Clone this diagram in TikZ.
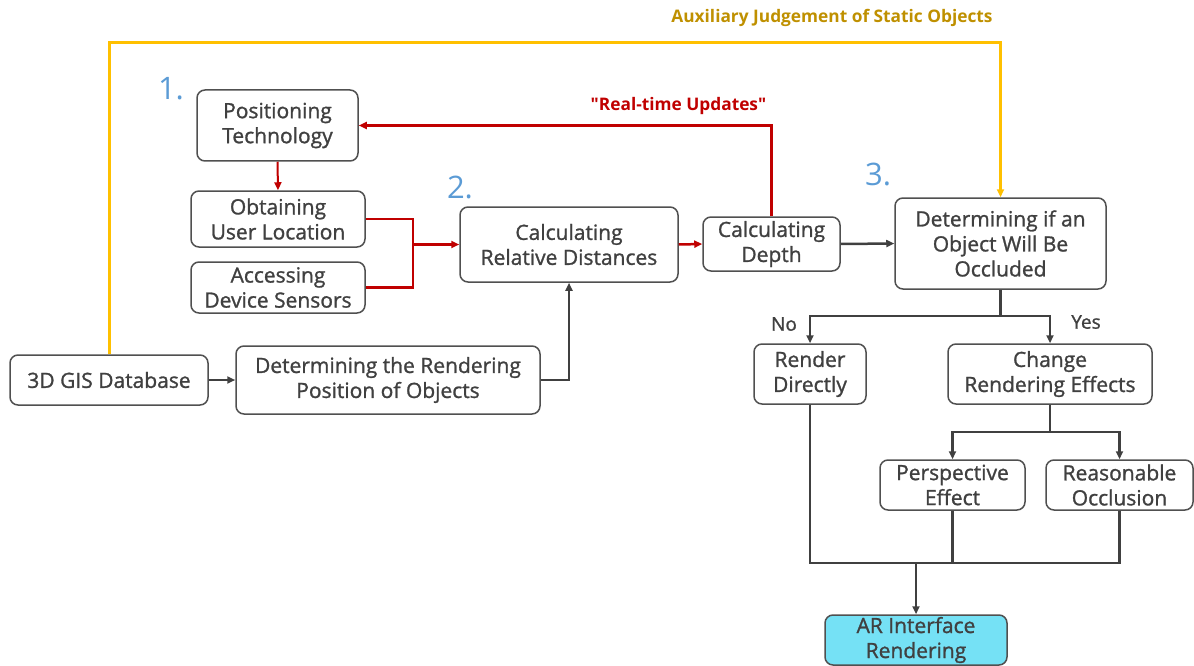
\documentclass[tikz,border=0pt]{standalone}
\usepackage{fontspec}
\setmainfont{Open Sans}
\newfontfamily\boxfont{Open Sans}[FakeBold=1.2]
\newfontfamily\rtfont{Open Sans}[Ligatures=TeXOff]
\usetikzlibrary{arrows.meta}
\definecolor{txt}{HTML}{404040}
\definecolor{edge}{HTML}{505050}
\definecolor{redc}{HTML}{C00000}
\definecolor{yel}{HTML}{FFC000}
\definecolor{gold}{HTML}{BF9000}
\definecolor{numblue}{HTML}{5B9BD5}
\definecolor{cyanf}{HTML}{75E1F5}
\tikzset{
  box/.style={draw=edge, line width=1.5pt, rounded corners=8pt, text=txt, align=center,
    inner sep=0pt, font=\boxfont\fontsize{21}{25}\selectfont},
  darkline/.style={draw=txt, line width=2.5pt},
  redline/.style={draw=redc, line width=2.5pt},
  yelline/.style={draw=yel, line width=3pt},
  tip/.style={-{Triangle[length=8pt,width=7pt]}},
  numlbl/.style={text=numblue, font=\fontsize{31}{31}\selectfont},
  lbl/.style={text=txt, font=\boxfont\fontsize{19}{19}\selectfont}
}
\begin{document}
\begin{tikzpicture}[x=1pt,y=-1pt]
\useasboundingbox (0,0) rectangle (1194,666);
% nodes
\node[box, minimum width=161pt, minimum height=71pt] (pos) at (277.5,125.5) {Positioning\\Technology};
\node[box, minimum width=174pt, minimum height=56pt] (obt) at (278,219) {Obtaining\\User Location};
\node[box, minimum width=174pt, minimum height=51pt] (acc) at (278,287.5) {Accessing\\Device Sensors};
\node[box, minimum width=218pt, minimum height=75pt] (crd) at (569,244.5) {Calculating\\Relative Distances};
\node[box, minimum width=137pt, minimum height=54pt] (dep) at (771.5,244) {Calculating\\Depth};
\node[box, minimum width=211pt, minimum height=91pt] (occ) at (1000.5,243.5) {Determining if an\\Object Will Be\\Occluded};
\node[box, minimum width=198pt, minimum height=50pt] (gis) at (109,380) {3D GIS Database};
\node[box, minimum width=304pt, minimum height=68pt] (rpos) at (388,380) {Determining the Rendering\\Position of Objects};
\node[box, minimum width=112pt, minimum height=60pt] (rd) at (810,374) {Render\\Directly};
\node[box, minimum width=204pt, minimum height=60pt] (cre) at (1050,374) {Change\\Rendering Effects};
\node[box, minimum width=145pt, minimum height=50pt] (pe) at (952.5,485) {Perspective\\Effect};
\node[box, minimum width=147pt, minimum height=50pt] (ro) at (1119.5,485) {Reasonable\\Occlusion};
\node[box, fill=cyanf, minimum width=182pt, minimum height=50pt] (ar) at (916,640) {AR Interface\\Rendering};
% labels
\node[numlbl] (n1) at (171,89) {1.};
\node[numlbl] (n2) at (460,187) {2.};
\node[numlbl] (n3) at (878,174) {3.};
\node[text=gold, font=\bfseries\fontsize{17.3}{17.3}\selectfont] (aux) at (832,18) {Auxiliary Judgement of Static Objects};
\node[text=redc, font=\rtfont\bfseries\fontsize{17.3}{17.3}\selectfont] (rt) at (678.5,106) {"Real-time Updates"};
\node[lbl] (no) at (784,324) {No};
\node[lbl] (yes) at (1086,322) {Yes};
% coordinates
\coordinate (ytop) at (0,43);
\coordinate (j1) at (413,244.5);
\coordinate (bj) at (1000.5,316);
\coordinate (cj) at (1050,432);
\coordinate (mj) at (916,563);
% yellow
\draw[yelline, tip, rounded corners=0pt] (gis.north) -- (gis.north |- ytop) -| (occ.north);
% red
\draw[redline, tip, line width=3pt] (dep.north) |- (pos.east);
\draw[redline, tip, line width=2pt] (pos.south) -- (obt.north);
\draw[redline] (obt.east) -| (j1);
\draw[redline] (acc.east) -| (j1);
\draw[redline, tip] (j1) -- (crd.west);
\draw[redline, tip] (crd.east) -- (dep.west);
% dark
\draw[darkline, tip] (dep.east) -- (occ.west);
\draw[darkline, tip] (gis.east) -- (rpos.west);
\draw[darkline, tip] (rpos.east) -| (crd.south);
\draw[darkline] (occ.south) -- (bj);
\draw[darkline, tip] (bj) -| (rd.north);
\draw[darkline, tip] (bj) -| (cre.north);
\draw[darkline] (cre.south) -- (cj);
\draw[darkline, tip] (cj) -| (pe.north);
\draw[darkline, tip] (cj) -| (ro.north);
\draw[darkline] (rd.south) |- (mj);
\draw[darkline] (ro.south) |- (mj);
\draw[darkline] (pe.south) |- (mj);
\draw[darkline, tip] (mj) -- (ar.north);
\end{tikzpicture}
\end{document}
